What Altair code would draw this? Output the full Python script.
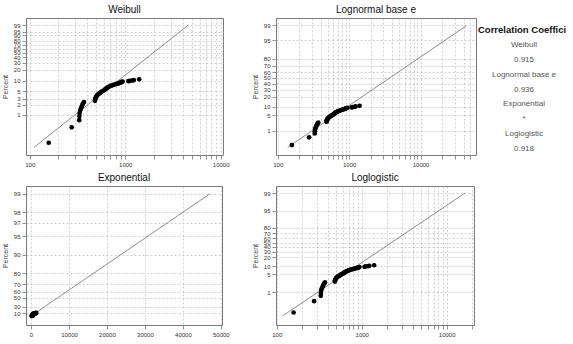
import math
from statistics import NormalDist

import altair as alt
import pandas as pd

# ---------------- data ----------------
# failure times and their plotted (median-rank) percents
times = [158, 275, 330, 331, 333, 338, 344, 350, 356, 362,
         370, 482, 484, 488, 493, 500, 508, 518, 530, 545,
         560, 572, 590, 605, 615, 628, 640, 652, 665, 680,
         700, 720, 745, 770, 800, 830, 860, 880, 900, 920,
         940, 1080, 1120, 1200, 1230, 1400]
percents = [0.15, 0.43, 0.70, 0.92, 1.13, 1.35, 1.55, 1.75, 1.97, 2.2,
            2.4, 2.6, 2.85, 3.05, 3.3, 3.5, 3.75, 3.95, 4.2, 4.45,
            4.65, 4.9, 5.1, 5.35, 5.6, 5.8, 6.05, 6.3, 6.5, 6.75,
            7.0, 7.2, 7.45, 7.7, 7.9, 8.15, 8.4, 8.6, 8.85, 9.1,
            9.3, 9.55, 9.8, 10.05, 10.3, 10.8]

# fitted lines: end points (time, percent)
weib_fit_t = [111, 4560]
weib_fit_p = [0.11, 99.0]
logn_fit_t = [138, 43600]
logn_fit_p = [0.108, 98.9]
expo_fit_t = [1770, 47150]
expo_fit_p = [15.8, 99.0]
logl_fit_t = [117.6, 16400]
logl_fit_p = [0.11, 99.0]

# y tick labels (percent) of each panel
weib_ticks = [1, 2, 3, 5, 10, 20, 30, 40, 50, 60, 70, 80, 90, 95, 99]
logn_ticks = [1, 5, 10, 20, 30, 40, 50, 60, 70, 80, 95, 99]
expo_ticks = [10, 30, 50, 60, 70, 80, 90, 95, 97, 98, 99]
logl_ticks = [1, 5, 10, 20, 30, 40, 50, 60, 70, 80, 95, 99]

# correlation coefficient box
cc_title = "Correlation Coefficient"
cc_labels = ["Weibull", "0.915", "Lognormal base e", "0.936",
             "Exponential", "*", "Loglogistic", "0.918"]

# x tick values
log_minor = [1, 2, 3, 4, 5, 6, 7, 8, 9]
weib_xvals = [m * d for d in (100, 1000) for m in log_minor] + [10000]
logn_xvals = [m * d for d in (100, 1000, 10000) for m in log_minor if m * d <= 50000]
logl_xvals = [m * d for d in (100, 1000) for m in log_minor] + [10000, 20000]
expo_xvals = [0, 10000, 20000, 30000, 40000, 50000]

# ---------------- probability-paper transforms ----------------
ND = NormalDist()


def t_weib(p):
    return math.log(-math.log(1 - p))


def t_logn(p):
    return ND.inv_cdf(p)


def t_expo(p):
    return -math.log(1 - p)


def t_logl(p):
    return math.log(p / (1 - p))


FONT = "Liberation Sans"


def label_expr(vals, labels):
    parts = []
    for i in range(len(vals) - 1):
        mid = (vals[i] + vals[i + 1]) / 2
        parts.append(f"datum.value < {mid:.6f} ? '{labels[i]}' : ")
    return "".join(parts) + f"'{labels[-1]}'"


def panel(title, tf, fit_t, fit_p, ticks, ydom, xscale, xaxis, w, h):
    pts = pd.DataFrame({"t": times, "y": [tf(p / 100) for p in percents]})
    fit = pd.DataFrame({"t": fit_t, "y": [tf(p / 100) for p in fit_p]})
    yvals = [tf(v / 100) for v in ticks]
    yaxis = alt.Axis(values=yvals, labelExpr=label_expr(yvals, [str(v) for v in ticks]),
                     title="Percent")
    x = alt.X("t:Q", scale=xscale, axis=xaxis, title=None)
    y = alt.Y("y:Q", scale=alt.Scale(domain=ydom, nice=False, zero=False), axis=yaxis)
    line = alt.Chart(fit).mark_line(color="#707070", strokeWidth=0.8).encode(x=x, y=y)
    dots = alt.Chart(pts).mark_circle(size=22, color="black", opacity=1).encode(x=x, y=y)
    return alt.layer(line, dots).properties(
        width=w, height=h,
        title=alt.TitleParams(title, font=FONT, fontSize=10, fontWeight="normal",
                              color="#111111", offset=3, anchor="middle"),
        view=alt.ViewBackground(stroke="#7a7a7a", strokeWidth=1),
    )


def log_axis(vals):
    return alt.Axis(values=vals,
                    labelExpr="datum.value == 100 || datum.value == 1000 || datum.value == 10000 ? format(datum.value, 'd') : ''")


weib = panel("Weibull", t_weib, weib_fit_t, weib_fit_p, weib_ticks, [-7.34, 2.02],
             alt.Scale(type="log", domain=[91.4, 10572], nice=False), log_axis(weib_xvals), 197, 137)
logn = panel("Lognormal base e", t_logn, logn_fit_t, logn_fit_p, logn_ticks, [-3.407, 2.637],
             alt.Scale(type="log", domain=[94.6, 59700], nice=False), log_axis(logn_xvals), 200, 137)
expo = panel("Exponential", t_expo, expo_fit_t, expo_fit_p, expo_ticks, [-0.34, 4.895],
             alt.Scale(domain=[-1320, 50300], nice=False, zero=False),
             alt.Axis(values=expo_xvals, format="d"), 196, 139)
logl = panel("Loglogistic", t_logl, logl_fit_t, logl_fit_p, logl_ticks, [-7.66, 5.25],
             alt.Scale(type="log", domain=[98, 20960], nice=False), log_axis(logl_xvals), 198, 139)

# correlation coefficient text column (its cell starts 51 px right of where the text begins)
cc_df = pd.DataFrame({"row": list(range(1, len(cc_labels) + 1)), "label": cc_labels})
head_df = pd.DataFrame({"row": [0], "label": [cc_title]})
ycc = alt.Y("row:Q", scale=alt.Scale(domain=[-0.807, 8.403], reverse=True, nice=False, zero=False),
            axis=None)
cc_items = alt.Chart(cc_df).mark_text(font=FONT, fontSize=8, color="#555555",
                                      align="center", baseline="middle").encode(
    x=alt.value(-5), y=ycc, text="label:N")
cc_head = alt.Chart(head_df).mark_text(font=FONT, fontSize=9.5, fontWeight="bold", color="#111111",
                                       align="left", baseline="middle", limit=93,
                                       ellipsis="\u200b").encode(
    x=alt.value(-51), y=ycc, text="label:N")
cc = alt.layer(cc_head, cc_items).properties(
    width=42, height=137, view=alt.ViewBackground(strokeOpacity=0))

chart = alt.ConcatChart(
    concat=[weib, logn, cc, expo, logl], columns=3,
    bounds="flush", align="each",
    spacing=alt.RowColnumber(row=31, column=53),
).properties(
    padding={"left": 0, "top": 4, "right": 0, "bottom": 0},
    background="white",
).resolve_scale(x="independent", y="independent").configure_axis(
    labelFont=FONT, labelFontSize=6, labelColor="#333333", labelPadding=2,
    labelOverlap=False, labelFlush=False,
    tickSize=4, tickColor="#666666", tickWidth=0.7,
    domain=False,
    grid=True, gridColor="#bdbdbd", gridDash=[2, 2], gridWidth=0.7,
    titleFont=FONT, titleFontSize=7, titleFontWeight="normal", titleColor="#444444",
    titlePadding=5,
)

chart.save("out.html", embed_options={"renderer": "svg", "actions": False})
